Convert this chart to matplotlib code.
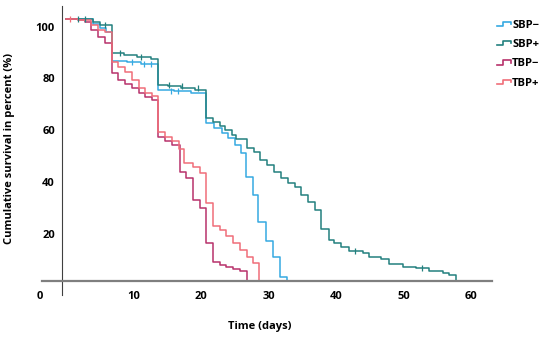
import matplotlib
matplotlib.use("Agg")
import matplotlib.pyplot as plt
from matplotlib.legend_handler import HandlerBase
from matplotlib.lines import Line2D

plt.rcParams['font.family'] = ['Open Sans', 'DejaVu Sans']

# Kaplan-Meier style step data (time in days, survival in %)
sbp_minus_t = [0, 3.9, 5.0, 5.9, 6.75, 9.0, 11.0, 13.6, 16.0, 18.5, 20.75, 21.9, 23.0,
               24.0, 25.0, 25.9, 26.6, 27.7, 28.4, 29.6, 30.6, 31.7, 32.7]
sbp_minus_s = [102.9, 101.0, 99.5, 98.0, 86.7, 86.2, 85.6, 75.5, 75.0, 74.4, 62.9, 61.0, 59.0,
               57.0, 54.5, 51.1, 42.1, 35.0, 24.8, 17.4, 11.1, 3.4, 2.0]

sbp_plus_t = [0, 3.9, 5.0, 6.75, 8.5, 10.5, 12.5, 13.6, 15, 17, 19, 20.75, 21.75, 22.7, 23.5,
              24.5, 25.2, 26.7, 27.75, 28.7, 29.7, 30.75, 31.85, 32.8, 33.8, 34.8, 35.8, 36.8,
              37.75, 38.9, 39.7, 40.7, 41.8, 43.9, 44.9, 46.6, 47.8, 49.8, 51.8, 53.7, 55.75,
              56.7, 57.7]
sbp_plus_s = [102.9, 101.7, 100.5, 89.9, 89.1, 88.2, 87.4, 77.5, 77.0, 76.3, 75.7, 64.6, 63.3,
              61.7, 60.1, 58.2, 56.5, 53.3, 51.8, 48.6, 46.6, 44.0, 41.5, 39.6, 38.0, 35.1, 32.5,
              29.3, 22.0, 17.7, 16.7, 15.1, 13.6, 12.6, 11.3, 10.3, 8.4, 7.4, 6.8, 5.9, 4.9,
              4.2, 2.0]

tbp_minus_t = [0, 1.7, 2.75, 3.65, 4.7, 5.7, 6.75, 7.7, 8.7, 9.7, 10.7, 11.7, 12.7, 13.6, 14.6,
               15.6, 16.8, 17.8, 18.8, 19.8, 20.75, 21.7, 22.7, 23.7, 24.7, 25.7, 26.7]
tbp_minus_s = [102.9, 102.5, 101.9, 98.7, 96.1, 93.5, 82.0, 79.4, 77.8, 76.2, 74.5, 72.8, 71.7,
               57.5, 56.0, 54.2, 44.0, 41.5, 33.1, 29.9, 16.4, 9.4, 8.1, 7.2, 6.4, 5.9, 2.0]

tbp_plus_t = [0, 1.7, 3.65, 4.7, 5.7, 6.75, 7.7, 8.7, 9.7, 10.7, 11.7, 12.7, 13.6, 14.6, 15.6,
              16.7, 17.5, 18.8, 19.8, 20.75, 21.7, 22.7, 23.7, 24.7, 25.7, 26.7, 27.7, 28.6]
tbp_plus_s = [102.9, 102.5, 100.5, 98.7, 97.8, 86.4, 84.5, 82.6, 79.4, 76.2, 74.2, 73.2, 59.5,
              57.5, 56.0, 52.7, 47.3, 46.0, 43.5, 31.9, 23.0, 21.6, 19.3, 16.4, 13.9, 11.3,
              8.8, 2.0]

# censored observations
sbp_minus_cens_t = [9.8, 11.5, 12.5, 15.5, 16.5]
sbp_minus_cens_s = [86.2, 85.6, 85.6, 75.0, 75.0]
sbp_plus_cens_t = [1.7, 2.7, 5.7, 8.0, 11.0, 15.2, 17.2, 19.5, 42.8, 52.7]
sbp_plus_cens_s = [102.9, 102.9, 100.5, 89.9, 88.2, 77.5, 77.0, 76.3, 13.6, 6.8]
tbp_plus_cens_t = [0.5]
tbp_plus_cens_s = [102.9]

labels = ['SBP\u2212', 'SBP+', 'TBP\u2212', 'TBP+']
colors = ['#36a9e1', '#23807f', '#b8316b', '#f06e79']
x_ticks = [10, 20, 30, 40, 50, 60]
y_ticks = [20, 40, 60, 80, 100]


class StepHandler(HandlerBase):
    def create_artists(self, legend, orig_handle, xdescent, ydescent,
                       width, height, fontsize, trans):
        w, h = width, height
        xs = [0, 0.45 * w, 0.45 * w, w, w]
        ys = [0.2 * h, 0.2 * h, 0.75 * h, 0.75 * h, 0.45 * h]
        line = Line2D([x - xdescent for x in xs], [y - ydescent for y in ys],
                      color=orig_handle.get_color(), lw=1.2, transform=trans)
        return [line]


fig = plt.figure(figsize=(5.5, 3.37), dpi=100)
ax = fig.add_axes([40 / 550, 41 / 337, 455 / 550, 291 / 337])
ax.set_xlim(-3.9, 63.5)
ax.set_ylim(-3.85, 108.3)

series = [(sbp_minus_t, sbp_minus_s), (sbp_plus_t, sbp_plus_s),
          (tbp_minus_t, tbp_minus_s), (tbp_plus_t, tbp_plus_s)]
handles = []
for (t, s), c, lab in zip(series, colors, labels):
    h, = ax.step(t, s, where='post', color=c, lw=1.1, label=lab)
    handles.append(h)

ax.plot(sbp_minus_cens_t, sbp_minus_cens_s, ls='none', marker='|', ms=5, mew=0.9, color=colors[0])
ax.plot(sbp_plus_cens_t, sbp_plus_cens_s, ls='none', marker='|', ms=5, mew=0.9, color=colors[1])
ax.plot(tbp_plus_cens_t, tbp_plus_cens_s, ls='none', marker='|', ms=5, mew=0.9, color=colors[3])

for side in ['top', 'right']:
    ax.spines[side].set_visible(False)
ax.spines['left'].set_position(('data', -0.65))
ax.spines['left'].set_bounds(-3.5, 108)
ax.spines['left'].set_color('#404040')
ax.spines['left'].set_linewidth(0.8)
ax.spines['bottom'].set_position(('data', 2.0))
ax.spines['bottom'].set_bounds(-3.6, 63)
ax.spines['bottom'].set_color('#7f7f7f')
ax.spines['bottom'].set_linewidth(1.6)

fs = 8
ax.set_xticks(x_ticks)
ax.set_yticks(y_ticks)
ax.tick_params(axis='x', length=0, pad=7, labelsize=fs)
ax.tick_params(axis='y', length=0, pad=5, labelsize=fs)
for lbl in ax.get_xticklabels() + ax.get_yticklabels():
    lbl.set_fontweight('bold')

ax.text(-3.9, -4.2, '0', ha='center', va='center', fontsize=fs, fontweight='bold', clip_on=False)

fig.text(260 / 550, 1 - 327 / 337, 'Time (days)', ha='center', va='center',
         fontsize=fs, fontweight='bold')
fig.text(10 / 550, 1 - 148 / 337, 'Cumulative survival in percent (%)', ha='center',
         va='center', rotation=90, fontsize=fs, fontweight='bold')

ax.legend(handles=handles, labels=labels, handler_map={Line2D: StepHandler()},
          loc='upper left', bbox_to_anchor=(491 / 550, 1 - 14 / 337),
          bbox_transform=fig.transFigure, frameon=False,
          prop={'weight': 'bold', 'size': fs}, handlelength=1.3, handletextpad=0.1,
          labelspacing=0.75, borderpad=0)

fig.savefig('out.png', dpi=100)
